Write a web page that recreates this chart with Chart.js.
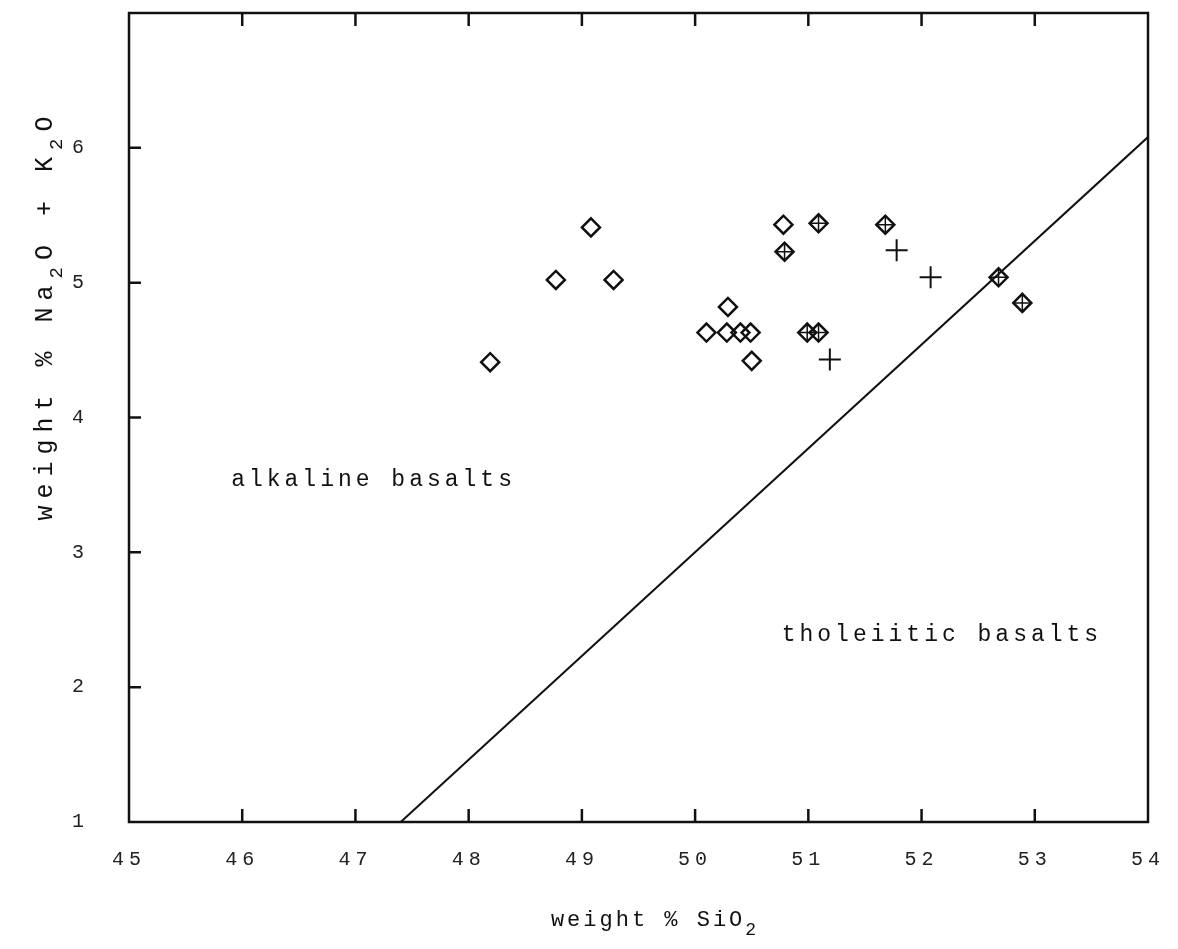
<!DOCTYPE html>
<html>
<head>
<meta charset="utf-8">
<script src="https://cdn.jsdelivr.net/npm/chart.js@4"></script>
<style>
  body { margin: 0; background: #fff; }
  #wrap { width: 1178px; height: 949px; }
</style>
</head>
<body>
<div id="wrap"><canvas id="chart-tas"></canvas></div>
<script>
// values
var diamondX = [48.19, 48.77, 49.08, 49.28, 50.10, 50.28, 50.29, 50.40, 50.49, 50.50, 50.78];
var diamondY = [4.41, 5.02, 5.41, 5.02, 4.63, 4.63, 4.82, 4.63, 4.63, 4.42, 5.43];
var crossedX = [50.79, 50.99, 51.09, 51.09, 51.68, 52.68, 52.89];
var crossedY = [5.23, 4.63, 4.63, 5.44, 5.43, 5.04, 4.85];
var plusX = [51.19, 51.78, 52.08];
var plusY = [4.43, 5.24, 5.04];
var boundaryX = [47.4, 54];
var boundaryY = [1, 6.08];
var xTicks = [45, 46, 47, 48, 49, 50, 51, 52, 53, 54];
var yTicks = [1, 2, 3, 4, 5, 6];
var labels = [
    { text: "alkaline basalts", x: 47.16, y: 3.54 },
    { text: "tholeiitic basalts", x: 52.18, y: 2.39 }
];

var MONO = "'Liberation Mono', 'DejaVu Sans Mono', monospace";
var INK = "#111";

function pts(xs, ys) {
    return xs.map(function (x, i) { return { x: x, y: ys[i] }; });
}

// draws text made of [string, isSubscript] pieces, centred on (0,0) of current transform
function drawPieces(ctx, pieces, size, subSize, spacing) {
    ctx.letterSpacing = spacing + "px";
    var total = 0;
    pieces.forEach(function (p) {
        ctx.font = (p[1] ? subSize : size) + "px " + MONO;
        total += ctx.measureText(p[0]).width;
    });
    var cx = -total / 2;
    pieces.forEach(function (p) {
        ctx.font = (p[1] ? subSize : size) + "px " + MONO;
        ctx.fillText(p[0], cx, p[1] ? size * 0.4 : 0);
        cx += ctx.measureText(p[0]).width;
    });
}

var framePlugin = {
    id: "frame",
    beforeDraw: function (chart) {
        chart.ctx.letterSpacing = "5px";
    },
    afterDraw: function (chart) {
        var ctx = chart.ctx;
        var a = chart.chartArea;
        var xs = chart.scales.x, ys = chart.scales.y;
        ctx.save();
        ctx.strokeStyle = INK;
        ctx.lineWidth = 2.5;
        ctx.strokeRect(a.left, a.top, a.right - a.left, a.bottom - a.top);

        // inward tick marks
        ctx.beginPath();
        xTicks.slice(1, -1).forEach(function (v) {
            var px = xs.getPixelForValue(v);
            ctx.moveTo(px, a.bottom);
            ctx.lineTo(px, a.bottom - 13);
            ctx.moveTo(px, a.top);
            ctx.lineTo(px, a.top + 13);
        });
        yTicks.slice(1).forEach(function (v) {
            var py = ys.getPixelForValue(v);
            ctx.moveTo(a.left, py);
            ctx.lineTo(a.left + 12, py);
        });
        ctx.stroke();

        // region labels
        ctx.fillStyle = INK;
        ctx.textBaseline = "middle";
        ctx.textAlign = "left";
        labels.forEach(function (l) {
            ctx.save();
            ctx.translate(xs.getPixelForValue(l.x), ys.getPixelForValue(l.y));
            drawPieces(ctx, [[l.text, false]], 23, 23, 4);
            ctx.restore();
        });

        // axis titles with subscripts
        ctx.textBaseline = "alphabetic";
        ctx.save();
        ctx.translate(655, 926);
        drawPieces(ctx, [["weight % SiO", false], ["2", true]], 22, 18, 3);
        ctx.restore();

        ctx.save();
        ctx.translate(52, 315);
        ctx.rotate(-Math.PI / 2);
        drawPieces(ctx, [["weight % Na", false], ["2", true], ["O + K", false], ["2", true], ["O", false]], 25, 19, 7);
        ctx.restore();
        ctx.restore();
    }
};

var ctx = document.getElementById("chart-tas").getContext("2d");

new Chart(ctx, {
    type: "scatter",
    data: {
        datasets: [
            {
                label: "boundary",
                type: "line",
                data: pts(boundaryX, boundaryY),
                borderColor: INK,
                borderWidth: 2,
                pointRadius: 0,
                fill: false
            },
            {
                label: "diamond",
                data: pts(diamondX, diamondY),
                pointStyle: "rectRot",
                pointRadius: 9,
                borderColor: INK,
                borderWidth: 2.5,
                backgroundColor: "rgba(0,0,0,0)"
            },
            {
                label: "crossed diamond",
                data: pts(crossedX, crossedY),
                pointStyle: "rectRot",
                pointRadius: 9,
                borderColor: INK,
                borderWidth: 2.5,
                backgroundColor: "rgba(0,0,0,0)"
            },
            {
                label: "crossed diamond cross",
                data: pts(crossedX, crossedY),
                pointStyle: "cross",
                pointRadius: 9,
                borderColor: INK,
                borderWidth: 1.5
            },
            {
                label: "plus",
                data: pts(plusX, plusY),
                pointStyle: "cross",
                pointRadius: 11,
                borderColor: INK,
                borderWidth: 2
            }
        ]
    },
    options: {
        responsive: true,
        maintainAspectRatio: false,
        animation: false,
        layout: {
            padding: { top: 13, right: 30, left: 0, bottom: 0 }
        },
        plugins: {
            legend: { display: false },
            tooltip: { enabled: false }
        },
        scales: {
            x: {
                type: "linear",
                min: 45,
                max: 54,
                afterFit: function (scale) {
                    scale.height = 127;
                    scale.paddingLeft = 0;
                    scale.paddingRight = 0;
                },
                afterBuildTicks: function (scale) {
                    scale.ticks = xTicks.map(function (v) { return { value: v }; });
                },
                grid: { display: false, drawTicks: false },
                border: { display: false },
                ticks: {
                    padding: 26,
                    maxRotation: 0,
                    color: "#222",
                    font: { size: 20, family: MONO }
                }
            },
            y: {
                type: "linear",
                min: 1,
                max: 7,
                afterFit: function (scale) {
                    scale.width = 129;
                    scale.paddingTop = 0;
                    scale.paddingBottom = 0;
                },
                afterBuildTicks: function (scale) {
                    scale.ticks = yTicks.map(function (v) { return { value: v }; });
                },
                grid: { display: false, drawTicks: false },
                border: { display: false },
                ticks: {
                    padding: 40,
                    color: "#222",
                    font: { size: 20, family: MONO }
                }
            }
        }
    },
    plugins: [framePlugin]
});
</script>
</body>
</html>
